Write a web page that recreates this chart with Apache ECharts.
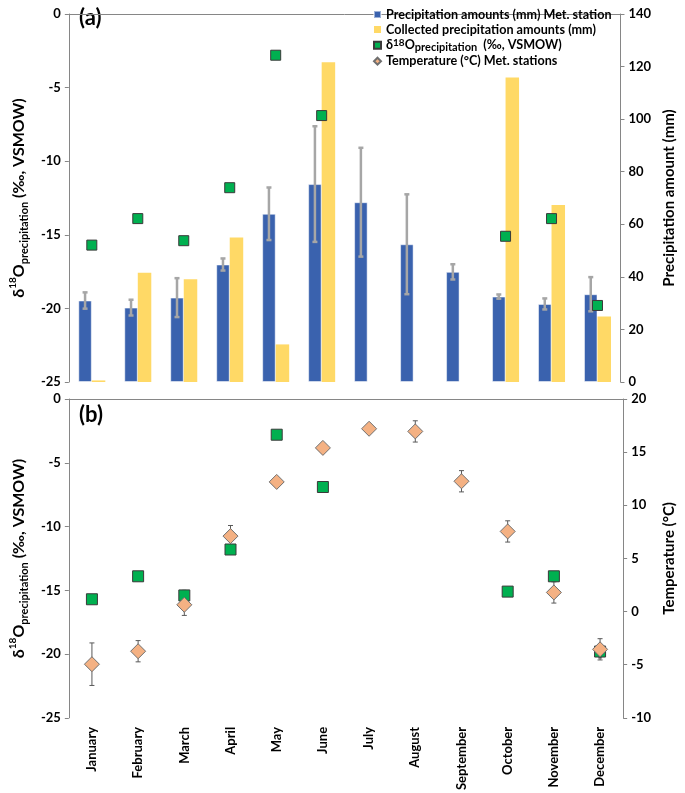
<!DOCTYPE html>
<html>
<head>
<meta charset="utf-8">
<script src="https://cdn.jsdelivr.net/npm/echarts@6/dist/echarts.min.js"></script>
<style>
  html, body { margin: 0; padding: 0; background: #fff; }
  #chart { width: 685px; height: 793px; }
</style>
</head>
<body>
<div id="chart"></div>
<script>
const months = ['January', 'February', 'March', 'April', 'May', 'June', 'July',
  'August', 'September', 'October', 'November', 'December'];

// panel (a)
const precipMet = [31.0, 28.3, 32.1, 44.7, 64.0, 75.3, 68.4, 52.4, 41.9, 32.5, 29.7, 33.4];
const precipMetErr = [3.1, 3.0, 7.4, 2.3, 10.0, 22.0, 20.7, 19.0, 2.9, 0.8, 2.1, 6.5];
const precipCollected = [0.6, 41.6, 39.1, 55.0, 14.3, 121.6, null, null, null, 115.8, 67.3, 24.9];
const d18O = [-15.7, -13.9, -15.4, -11.8, -2.8, -6.9, null, null, null, -15.1, -13.9, -19.8];

// panel (b)
const d18OErr = [0, 0, 0.4, 0, 0, 0, null, null, null, 0, 0, 0.5];
const temp = [-4.95, -3.73, 0.64, 7.1, 12.2, 15.4, 17.2, 16.95, 12.26, 7.54, 1.8, -3.55];
const tempErr = [2.0, 1.0, 1.0, 1.0, 0, 0, 0, 1.0, 1.0, 1.0, 1.0, 1.0];

const d18Ticks = { min: -25, max: 0, interval: 5 };
const precipTicks = { min: 0, max: 140, interval: 20 };
const tempTicks = { min: -10, max: 20, interval: 5 };

const N_MET = 'Precipitation amounts (mm) Met. station';
const N_COL = 'Collected precipitation amounts (mm)';
const N_D18 = 'd18O';
const N_T = 'Temperature (°C) Met. stations';

const FONT = 'Lato';
const BAR_W = 13.5;
const axisGrey = '#868686';

const chart = echarts.init(document.getElementById('chart'));

const errData = (vals, errs) => vals
  .map((v, i) => [i, v, errs[i]])
  .filter(d => d[1] != null && d[2]);

function errorBar(opts) {
  return function (params, api) {
    const i = api.value(0), v = api.value(1), e = api.value(2);
    const top = api.coord([i, v + e]);
    const bot = api.coord([i, v - e]);
    const x = top[0] + opts.offset;
    const c = opts.cap;
    const st = { stroke: opts.color, lineWidth: opts.width };
    return {
      type: 'group',
      children: [
        { type: 'line', shape: { x1: x, y1: top[1], x2: x, y2: bot[1] }, style: st },
        { type: 'line', shape: { x1: x - c, y1: top[1], x2: x + c, y2: top[1] }, style: st },
        { type: 'line', shape: { x1: x - c, y1: bot[1], x2: x + c, y2: bot[1] }, style: st }
      ]
    };
  };
}

const labelStyle = { color: '#000', fontFamily: FONT, fontWeight: 'bold', fontSize: 13 };
const richSet = (big, small, lh) => ({
  b: { fontFamily: FONT, fontWeight: 'bold', fontSize: big, color: '#000', lineHeight: lh, verticalAlign: 'middle' },
  sup: { fontFamily: FONT, fontWeight: 'bold', fontSize: small - 1, color: '#000', lineHeight: lh, verticalAlign: 'top' },
  sub: { fontFamily: FONT, fontWeight: 'bold', fontSize: small, color: '#000', lineHeight: lh, verticalAlign: 'bottom' }
});
const d18Name = '{b|δ}{sup|18}{b|O}{sub|precipitation}{b| (‰, VSMOW)}';

function yAxisCfg(grid, pos, ticks, name) {
  return {
    type: 'value', gridIndex: grid, position: pos,
    min: ticks.min, max: ticks.max, interval: ticks.interval,
    name: name, nameLocation: 'middle', nameRotate: 90,
    nameGap: pos === 'left' ? 33 : 38,
    nameTextStyle: { fontFamily: FONT, fontWeight: 'bold', fontSize: 15, color: '#000', rich: richSet(16, 11, 22) },
    axisLine: { show: true, lineStyle: { color: axisGrey, width: 1 } },
    axisTick: { show: true, length: 4, lineStyle: { color: axisGrey } },
    axisLabel: Object.assign({ margin: 8 }, labelStyle),
    splitLine: { show: false }
  };
}

chart.setOption({
  animation: false,
  textStyle: { fontFamily: FONT },
  grid: [
    { left: 57, right: 57, top: 14, height: 368 },
    { left: 57, right: 57, top: 399, height: 322 }
  ],
  xAxis: [
    {
      type: 'category', gridIndex: 0, data: months,
      axisLine: { lineStyle: { color: axisGrey } },
      axisTick: { length: 4, lineStyle: { color: axisGrey } },
      axisLabel: { show: false }
    },
    {
      type: 'category', gridIndex: 1, data: months,
      axisLine: { lineStyle: { color: axisGrey } },
      axisTick: { length: 4, lineStyle: { color: axisGrey } },
      axisLabel: Object.assign({ rotate: 90, margin: 9, interval: 0 }, labelStyle, { fontSize: 13 })
    }
  ],
  yAxis: [
    yAxisCfg(0, 'left', d18Ticks, d18Name),
    yAxisCfg(0, 'right', precipTicks, 'Precipitation amount (mm)'),
    yAxisCfg(1, 'left', d18Ticks, d18Name),
    yAxisCfg(1, 'right', tempTicks, 'Temperature (°C)')
  ],
  legend: {
    orient: 'vertical', left: 368, top: 3,
    itemWidth: 7, itemHeight: 7, itemGap: 2,
    textStyle: { fontFamily: FONT, fontWeight: 'bold', fontSize: 12.6, color: '#000', rich: richSet(12.6, 11, 14.7) },
    data: [
      { name: N_MET, icon: 'rect' },
      { name: N_COL, icon: 'rect' },
      { name: N_D18, icon: 'rect' },
      { name: N_T, icon: 'diamond' }
    ],
    formatter: name => name === N_D18
      ? '{b|δ}{sup|18}{b|O}{sub|precipitation}{b|  (‰, VSMOW)}'
      : '{b|' + name + '}'
  },
  graphic: [
    { type: 'text', left: 79, top: 7, style: { text: '(a)', font: 'bold 22px Lato', fill: '#000' } },
    { type: 'text', left: 79, top: 404, style: { text: '(b)', font: 'bold 22px Lato', fill: '#000' } }
  ],
  series: [
    {
      name: N_MET, type: 'bar', xAxisIndex: 0, yAxisIndex: 1,
      data: precipMet, barWidth: BAR_W, barGap: '0%',
      itemStyle: { color: '#3A62AE', borderColor: 'rgba(255,255,255,0.5)', borderWidth: 1 }
    },
    {
      name: N_COL, type: 'bar', xAxisIndex: 0, yAxisIndex: 1,
      data: precipCollected, barWidth: BAR_W, barGap: '0%',
      itemStyle: { color: '#FFD966' }
    },
    {
      type: 'custom', xAxisIndex: 0, yAxisIndex: 1, z: 3,
      data: errData(precipMet, precipMetErr),
      renderItem: errorBar({ offset: -BAR_W / 2, cap: 2.5, color: '#A6A6A6', width: 2.5 })
    },
    {
      name: N_D18, type: 'scatter', xAxisIndex: 0, yAxisIndex: 0, z: 5,
      data: d18O, symbol: 'rect', symbolSize: 10,
      itemStyle: { color: '#00B050', borderColor: '#3a3a3a', borderWidth: 1, opacity: 1 }
    },
    {
      type: 'custom', xAxisIndex: 1, yAxisIndex: 2, z: 3,
      data: errData(d18O, d18OErr),
      renderItem: errorBar({ offset: 0, cap: 2, color: '#404040', width: 1 })
    },
    {
      name: N_D18, type: 'scatter', xAxisIndex: 1, yAxisIndex: 2, z: 4,
      data: d18O, symbol: 'rect', symbolSize: 11,
      itemStyle: { color: '#00B050', borderColor: '#3a3a3a', borderWidth: 1, opacity: 1 }
    },
    {
      type: 'custom', xAxisIndex: 1, yAxisIndex: 3, z: 3,
      data: errData(temp, tempErr),
      renderItem: errorBar({ offset: 0, cap: 2.5, color: '#595959', width: 1 })
    },
    {
      name: N_T, type: 'scatter', xAxisIndex: 1, yAxisIndex: 3, z: 5,
      data: temp, symbol: 'diamond', symbolSize: [15, 15],
      itemStyle: { color: '#F4B183', borderColor: '#6f6f6f', borderWidth: 1, opacity: 1 }
    }
  ]
});
</script>
</body>
</html>
